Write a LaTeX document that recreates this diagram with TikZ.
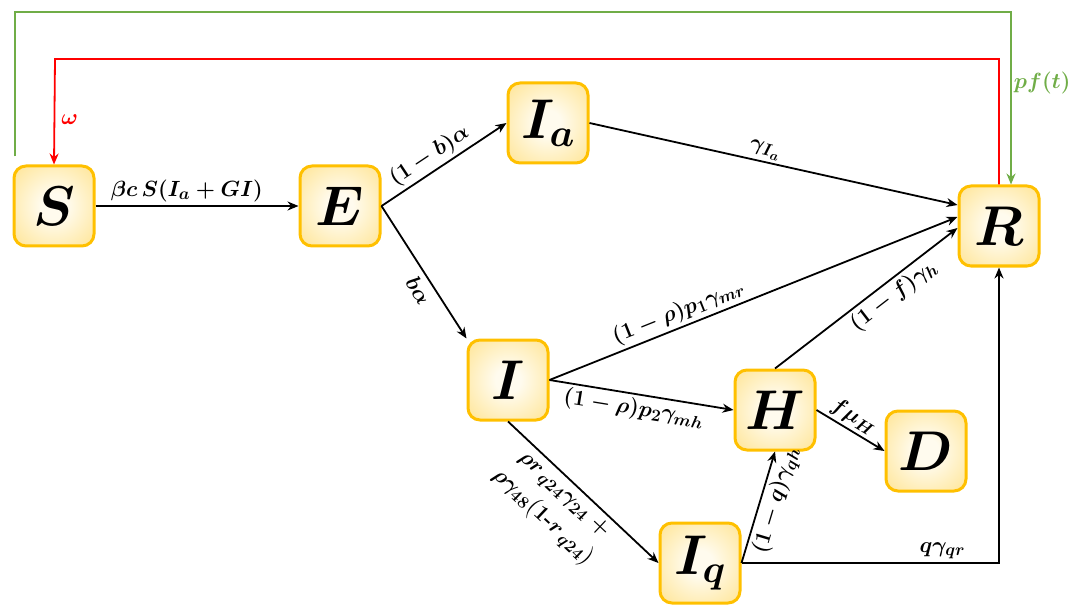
\RequirePackage{fix-cm}
\documentclass[tikz,border=0pt]{standalone}
\usepackage{amsmath}
\usetikzlibrary{arrows.meta}

% larger script sizes for the labels and compartment names
\DeclareMathSizes{22}{22}{17}{13.5}
\DeclareMathSizes{54}{54}{42}{32}

\definecolor{boxedge}{HTML}{FFC000}
\definecolor{boxin}{HTML}{FFFBEE}
\definecolor{boxout}{HTML}{FFD966}
\definecolor{wred}{HTML}{FF0000}
\definecolor{pgreen}{HTML}{70AD47}

% soft glow inside every compartment box
\pgfdeclareradialshading{boxglow}{\pgfpoint{0bp}{0bp}}{%
  color(0bp)=(boxin); color(8bp)=(boxin); color(50bp)=(boxout); color(72bp)=(boxout)}

\begin{document}
\begin{tikzpicture}[x=1pt,y=1pt,
  comp/.style={draw=boxedge, line width=3pt, rounded corners=12pt,
    minimum width=80pt, minimum height=80pt, inner sep=0pt,
    shading=boxglow, font=\fontsize{56}{58}\selectfont\boldmath},
  flow/.style={draw=black, line width=1.8pt, -{Stealth[length=11pt,width=9pt]}},
  feedback/.style={line width=1.8pt, -{Stealth[length=11pt,width=9pt]}},
  lab/.style={font=\fontsize{22}{26}\selectfont\boldmath, inner sep=3pt},
]
\useasboundingbox (0,0) rectangle (1081,606);

% compartments
\node[comp] (S)  at (54,400)  {$S$};
\node[comp] (E)  at (340,400) {$E$};
\node[comp] (Ia) at (548,483) {$I_a$};
\node[comp] (R)  at (999,380) {$R$};
\node[comp] (I)  at (508,226) {$I$};
\node[comp] (H)  at (775,196) {$H$};
\node[comp] (D)  at (926,155) {$D$};
\node[comp] (Iq) at (700,43)  {$I_q$};

% transitions
\draw[flow] (S.east) -- node[lab, above, pos=0.45] {$\beta c\,S(I_a+GI)$} (E.west);
\draw[flow] (E.east) -- node[lab, sloped, above, pos=0.45] {$(1-b)\alpha$} (Ia.west);
\draw[flow] (E.east) -- node[lab, sloped, below, pos=0.58, inner sep=6pt] {$b\alpha$} (I.north west);
\draw[flow] (Ia.east) -- node[lab, sloped, above, pos=0.47] {$\gamma_{I_a}$} ([yshift=21pt]R.west);
\draw[flow] (I.east) -- node[lab, sloped, above, pos=0.33] {$(1-\rho)p_1\gamma_{mr}$} ([yshift=9pt]R.west);
\draw[flow] (I.east) -- node[lab, sloped, below, pos=0.47] {$(1-\rho)p_2\gamma_{mh}$} (H.west);
\draw[flow] (I.south) -- node[lab, sloped, below, pos=0.44, align=center, inner sep=5pt]
  {$\rho r_{\,q24}\gamma_{24}\;+$\\[5pt]$\rho\gamma_{48}\bigl(1\textbf{-}r_{\,q24}\bigr)$} (Iq.west);
\draw[flow] (Iq.east) -- node[lab, sloped, below, pos=0.6] {$(1-q)\gamma_{qh}$} (H.south);
\draw[flow] (Iq.east) -| node[lab, above, pos=0.39] {$q\gamma_{qr}$} (R.south);
\draw[flow] (H.north) -- node[lab, sloped, below, pos=0.6] {$(1-f)\gamma_h$} ([yshift=-2pt]R.west);
\draw[flow] (H.east) -- node[lab, sloped, above, pos=0.44] {$f\mu_H$} (D.west);

% loss of immunity R -> S
\coordinate (wcorner) at (55,547);
\draw[feedback, draw=wred] (R.north) |- (wcorner)
  -- node[lab, right, text=wred, pos=0.57, inner sep=6pt] {$\omega$} (S.north);

% vaccination S -> R
\coordinate (gS) at ([xshift=-39pt,yshift=8pt]S.north);
\coordinate (gcorner) at (1011,594);
\draw[feedback, draw=pgreen] (gS) |- (gcorner)
  -- node[lab, right, text=pgreen, pos=0.41, inner sep=2pt] {$pf(t)$} ([xshift=12pt]R.north);
\end{tikzpicture}
\end{document}
